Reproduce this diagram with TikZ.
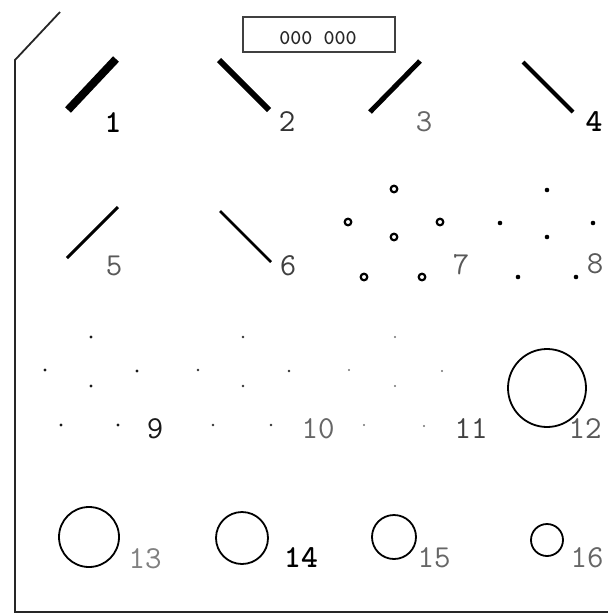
\documentclass[tikz,border=0pt]{standalone}
\usepackage{tikz}

\begin{document}
\begin{tikzpicture}[x=1pt,y=-1pt]
  \tikzstyle{every node}+=[inner sep=0pt]
  \tikzstyle{lbl}=[font=\ttfamily\fontsize{32}{32}\selectfont]
  \tikzstyle{lblb}=[font=\ttfamily\bfseries\fontsize{32}{32}\selectfont]
  \useasboundingbox (0,0) rectangle (608,614);
  % frame
  \draw [black!85, line width=1.8] (60,12) -- (15,60) -- (15,612) -- (608,612);
  \node [draw=black!75, line width=2, minimum width=152, minimum height=35] (tag) at (319,34.5) {};
  \node [font=\ttfamily\bfseries\fontsize{21}{21}\selectfont, black!85] (tagtxt) at (318,38.5) {000 000};
  % lines
  \draw [black, line width=8] (68,110) -- (116,59);
  \node [lblb] (n1) at (113,123) {1};
  \draw [black, line width=6] (219,60) -- (269,110);
  \node [lbl, black!80] (n2) at (287,122) {2};
  \draw [black, line width=5] (370,112) -- (420,61);
  \node [lbl, black!60] (n3) at (424,122) {3};
  \draw [black, line width=4] (523,62) -- (573,112);
  \node [lblb] (n4) at (594,122) {4};
  \draw [black, line width=3] (67,258) -- (118,207);
  \node [lbl, black!65] (n5) at (114,266) {5};
  \draw [black, line width=2.5] (220,211) -- (271,262);
  \node [lbl, black!75] (n6) at (288,266) {6};
  % rings
  \draw [black, line width=2.2] (394,189) circle (3.3);
  \draw [black, line width=2.2] (348,222) circle (3.3);
  \draw [black, line width=2.2] (440,222) circle (3.3);
  \draw [black, line width=2.2] (394,237) circle (3.3);
  \draw [black, line width=2.2] (364,277) circle (3.3);
  \draw [black, line width=2.2] (422,277) circle (3.3);
  \node [lbl, black!65] (n7) at (461,265) {7};
  % dots
  \fill [black] (547,190) circle (2.3);
  \fill [black] (500,223) circle (2.3);
  \fill [black] (593,223) circle (2.3);
  \fill [black] (547,237) circle (2.3);
  \fill [black] (518,277) circle (2.3);
  \fill [black] (576,277) circle (2.3);
  \node [lbl, black!65] (n8) at (595,264) {8};
  \fill [black!90] (91,337) circle (1.6);
  \fill [black!90] (45,370) circle (1.6);
  \fill [black!90] (137,371) circle (1.6);
  \fill [black!90] (91,386) circle (1.6);
  \fill [black!90] (61,425) circle (1.6);
  \fill [black!90] (118,425) circle (1.6);
  \node [lbl, black!90] (n9) at (155,429) {9};
  \fill [black!80] (243,337) circle (1.4);
  \fill [black!80] (198,370) circle (1.4);
  \fill [black!80] (289,371) circle (1.4);
  \fill [black!80] (243,386) circle (1.4);
  \fill [black!80] (213,425) circle (1.4);
  \fill [black!80] (271,425) circle (1.4);
  \node [lbl, black!60] (n10) at (318,429) {10};
  \fill [black!55] (395,337) circle (1.2);
  \fill [black!55] (349,370) circle (1.2);
  \fill [black!55] (442,371) circle (1.2);
  \fill [black!55] (395,386) circle (1.2);
  \fill [black!55] (364,425) circle (1.2);
  \fill [black!55] (424,426) circle (1.2);
  \node [lbl, black!75] (n11) at (471,429) {11};
  % circles
  \draw [black, line width=1.8] (547,388) circle (39);
  \node [lbl, black!65] (n12) at (585,429) {12};
  \draw [black, line width=1.8] (89,537) circle (30);
  \node [lbl, black!50] (n13) at (145,559) {13};
  \draw [black, line width=1.8] (242,538) circle (26);
  \node [lblb] (n14) at (301,558) {14};
  \draw [black, line width=1.8] (394,537) circle (22);
  \node [lbl, black!60] (n15) at (434,558) {15};
  \draw [black, line width=1.8] (547,540) circle (16);
  \node [lbl, black!60] (n16) at (587,558) {16};
\end{tikzpicture}
\end{document}
